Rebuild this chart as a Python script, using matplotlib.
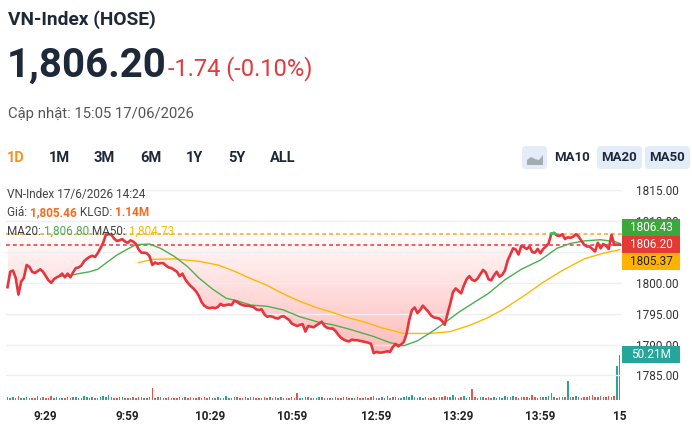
import numpy as np
import matplotlib
matplotlib.use("Agg")
import matplotlib.pyplot as plt
from matplotlib.patches import FancyBboxPatch, Rectangle, Polygon
from matplotlib.path import Path

plt.rcParams['font.family'] = ['Roboto', 'DejaVu Sans']

# ---- data (minute index, lunch break removed) ----
ref_price = 1807.94
last_price = 1806.20
price = [
    1799.3, 1801.8, 1802.0, 1800.8, 1798.1, 1800.2, 1800.8, 1802.9, 1802.6, 1801.8,
    1801.6, 1801.9, 1802.2, 1801.8, 1801.1, 1800.4, 1800.0, 1800.6, 1800.9, 1801.1,
    1801.5, 1800.9, 1801.5, 1800.9, 1801.7, 1802.4, 1802.5, 1802.8, 1803.5, 1803.9,
    1804.2, 1804.4, 1804.2, 1804.8, 1805.6, 1806.5, 1807.8, 1807.9, 1807.8, 1807.2,
    1806.8, 1806.9, 1807.1, 1806.7, 1806.5, 1806.9, 1806.7, 1806.3, 1805.4, 1804.9,
    1804.9, 1804.8, 1804.3, 1802.9, 1803.3, 1803.1, 1803.2, 1803.2, 1802.8, 1802.5,
    1802.4, 1802.1, 1801.8, 1801.1, 1801.5, 1800.6, 1800.0, 1799.5, 1799.1, 1798.6,
    1797.9, 1796.9, 1796.3, 1796.0, 1795.9, 1796.0, 1795.9, 1796.1, 1796.6, 1796.3,
    1796.4, 1796.5, 1796.4, 1797.1, 1796.9, 1796.6, 1796.4, 1796.3, 1796.3, 1796.2,
    1796.1, 1795.7, 1795.6, 1795.7, 1794.9, 1794.5, 1794.6, 1794.5, 1794.3, 1794.2,
    1794.5, 1794.6, 1794.3, 1794.0, 1793.4, 1793.2, 1793.0, 1793.2, 1793.3, 1792.1,
    1793.0, 1792.9, 1792.8, 1793.1, 1793.4, 1793.7, 1793.0, 1792.7, 1792.6, 1792.6,
    1792.2, 1791.6, 1791.1, 1790.8, 1790.6, 1790.5, 1790.8, 1790.7, 1790.7, 1790.6,
    1790.5, 1790.4, 1790.3, 1790.1, 1788.6, 1788.8, 1788.7, 1788.7, 1788.8, 1788.9,
    1788.8, 1789.6, 1790.1, 1789.7, 1790.0, 1790.4, 1791.7, 1794.0, 1795.6, 1796.0,
    1795.1, 1795.6, 1796.3, 1795.8, 1795.3, 1794.7, 1794.4, 1794.3, 1794.2, 1793.8,
    1793.2, 1795.0, 1796.6, 1798.5, 1799.1, 1798.7, 1798.3, 1799.6, 1800.6, 1801.1,
    1800.5, 1800.3, 1800.7, 1801.4, 1802.1, 1801.7, 1800.6, 1800.4, 1801.2, 1801.8,
    1801.0, 1801.3, 1802.0, 1803.6, 1804.6, 1805.6, 1805.4, 1804.6, 1806.0, 1805.8,
    1805.5, 1805.9, 1805.0, 1804.9, 1805.5, 1804.8, 1805.5, 1805.9, 1806.4, 1808.0,
    1808.1, 1807.7, 1807.6, 1807.9, 1807.1, 1807.4, 1807.3, 1807.5, 1807.9, 1807.5,
    1806.8, 1806.2, 1805.9, 1805.9, 1805.5, 1805.1, 1806.5, 1805.6, 1806.3, 1806.0,
    1805.5, 1807.8, 1806.2, 1806.2, 1806.2,
]
volume = [  # million shares
    3.5, 2.2, 2.8, 1.9, 4.6, 2.5, 2.0, 3.1, 2.4, 1.8, 2.6, 3.9, 2.3, 2.9, 2.1,
    2.6, 4.8, 2.2, 3.0, 1.9, 2.7, 2.4, 3.3, 2.0, 2.8, 3.6, 2.2, 2.5, 4.1, 2.9,
    2.3, 3.0, 2.6, 2.1, 3.7, 4.4, 2.8, 5.0, 3.2, 2.5, 2.2, 2.9, 3.3, 2.4, 2.7,
    2.0, 3.1, 2.5, 2.8, 3.6, 2.2, 2.6, 3.0, 13.7, 2.4, 2.9, 3.4, 2.1, 2.6, 3.8,
    2.3, 2.0, 2.7, 3.2, 2.4, 2.9, 2.2, 3.5, 2.6, 2.1, 3.0, 2.4, 2.8, 2.2, 3.1,
    2.5, 2.0, 3.3, 2.7, 2.3, 3.9, 2.4, 2.0, 2.8, 3.2, 2.2, 2.6, 3.0, 2.1, 2.9,
    3.4, 2.3, 2.0, 2.6, 2.9, 2.2, 3.1, 2.5, 2.8, 2.0, 3.6, 2.4, 2.2, 2.7, 3.0,
    2.4, 7.9, 2.6, 2.1, 2.8, 3.3, 2.2, 2.5, 2.0, 2.9, 3.2, 2.3, 2.7, 2.1, 2.6,
    3.0, 2.4, 2.2, 2.8, 3.5, 2.5, 2.1, 2.7, 3.2, 2.3, 2.0, 2.9, 2.6, 3.8, 4.4,
    2.5, 2.2, 3.0, 2.7, 4.1, 2.4, 2.9, 3.3, 2.6, 2.2, 3.1, 4.6, 3.5, 5.2, 2.8,
    2.6, 3.0, 2.4, 3.4, 2.7, 2.2, 3.1, 2.5, 2.9, 3.6, 4.3, 2.8, 3.2, 5.1, 3.0,
    2.6, 3.3, 4.0, 2.7, 3.5, 12.5, 3.0, 2.5, 2.9, 3.4, 2.6, 3.1, 2.4, 3.8, 2.7,
    3.2, 2.5, 3.9, 2.8, 3.4, 4.5, 3.0, 2.6, 3.6, 2.9, 3.3, 2.7, 5.3, 3.1, 2.6,
    3.5, 2.8, 3.2, 4.0, 8.0, 3.3, 2.7, 3.6, 2.9, 3.1, 20.5, 3.4, 2.8, 3.9, 3.0,
    2.7, 3.5, 3.1, 4.2, 5.1, 3.3, 2.9, 4.0, 3.6, 3.2, 4.5, 3.8, 4.1, 37.7, 50.21,
]
ma20_t = [19, 22, 26, 30, 33, 36, 40, 44, 47, 52, 56, 61, 66, 70, 75, 80, 84, 89,
          95, 101, 107, 114, 119, 125, 134, 140, 145, 150, 155, 159, 165, 171, 176,
          182, 188, 195, 201, 206, 211, 217, 222, 224]
ma20_v = [1801.1, 1801.1, 1801.5, 1801.8, 1802.2, 1803.2, 1804.5, 1805.5, 1806.2,
          1806.3, 1805.6, 1804.3, 1802.6, 1800.8, 1799.0, 1797.5, 1797.1, 1796.4,
          1796.2, 1795.6, 1794.5, 1793.6, 1793.2, 1792.5, 1791.3, 1790.3, 1789.8,
          1790.6, 1792.0, 1793.2, 1795.2, 1796.9, 1798.3, 1800.5, 1802.2, 1803.7,
          1805.6, 1806.4, 1806.8, 1807.0, 1806.7, 1806.43]
ma50_t = [48, 53, 61, 70, 77, 83, 89, 95, 101, 107, 113, 119, 125, 131, 137, 145,
          155, 162, 169, 175, 181, 189, 196, 203, 211, 218, 221, 224]
ma50_v = [1803.3, 1803.8, 1803.9, 1803.5, 1802.9, 1801.9, 1800.7, 1799.6, 1798.2,
          1797.0, 1796.0, 1795.2, 1794.3, 1793.6, 1792.7, 1791.8, 1791.8, 1792.1,
          1793.1, 1794.2, 1795.6, 1797.9, 1800.1, 1802.0, 1803.9, 1804.8, 1805.1,
          1805.37]
tick_idx = [14, 44, 74, 104, 135, 165, 195, 224]
tick_lbl = ['9:29', '9:59', '10:29', '10:59', '12:59', '13:29', '13:59', '15']

RED = '#e8343c'
GREEN_UP = '#2ecc55'
MA20_C = '#4caf50'
MA50_C = '#ffb800'
DARK = '#1d2939'

price = np.array(price)
minutes = np.arange(len(price))
W, H = 692, 436

fig = plt.figure(figsize=(W / 100, H / 100), dpi=100)
fig.patch.set_facecolor('white')


def fx(px):
    return px / W


def fy(py):
    return 1 - py / H


def rich(x_px, y_px, parts, size):
    r = fig.canvas.get_renderer()
    x = x_px
    for s, c, wt in parts:
        t = fig.text(fx(x), fy(y_px), s, color=c, fontsize=size, fontweight=wt, va='baseline')
        x += t.get_window_extent(r).width


# header
fig.text(fx(8), fy(24.5), 'VN-Index (HOSE)', fontsize=13.8, fontweight='bold', color=DARK)
fig.text(fx(7), fy(77), '1,806.20', fontsize=29, fontweight='bold', color=DARK)
fig.text(fx(168), fy(75), '-1.74 (-0.10%)', fontsize=17, color='#e03a3e')
fig.text(fx(8), fy(118), 'Cập nhật: 15:05 17/06/2026', fontsize=10.7, color='#555555')

periods = ['1D', '1M', '3M', '6M', '1Y', '5Y', 'ALL']
period_x = [7, 49, 94, 140, 186, 228, 270]
for lbl, px in zip(periods, period_x):
    fig.text(fx(px), fy(162), lbl, fontsize=10.5, fontweight='bold',
             color='#f7931e' if lbl == '1D' else DARK)

for x0, x1 in [(522, 547), (597, 642), (645, 690)]:
    fig.add_artist(FancyBboxPatch((x0 / 100, (H - 169) / 100), (x1 - x0) / 100, 23 / 100,
                                  boxstyle='round,pad=0,rounding_size=0.04',
                                  transform=fig.dpi_scale_trans, fc='#e4edf7', ec='none'))
icon = [(527, 165), (527, 160), (531, 157), (535, 159), (539, 160), (543, 155),
        (543, 165)]
fig.add_artist(Polygon([(a / 100, (H - b) / 100) for a, b in icon], closed=True,
                       transform=fig.dpi_scale_trans, fc='#a3abb5', ec='none'))
for lbl, cx in [('MA10', 572), ('MA20', 619.5), ('MA50', 667.5)]:
    fig.text(fx(cx), fy(157.5), lbl, fontsize=9.5, fontweight='bold', color=DARK,
             ha='center', va='center')

# chart axes
ax = fig.add_axes([fx(6), 36 / H, 616 / W, 217 / H])
ax2 = ax.twinx()
ax.set_zorder(2)
ax2.set_zorder(1)
ax.patch.set_visible(False)

# volume
vcol = ['#26a69a' if i == 0 or price[i] >= price[i - 1] else '#ef5350'
        for i in range(len(price))]
ax2.bar(minutes, volume, width=0.55, color=vcol, linewidth=0)
ax2.set_ylim(0, 240)
ax2.set_yticks([])

# gradient fill between price and reference
fb = ax.fill_between(minutes, price, ref_price, where=price <= ref_price, interpolate=True,
                     facecolor='none', edgecolor='none')
clip = Path.make_compound_path(*fb.get_paths())
n = 256
grad = np.zeros((n, 1, 4))
grad[:, 0, 0] = 1.0
grad[:, 0, 1] = 0.32
grad[:, 0, 2] = 0.32
grad[:, 0, 3] = np.linspace(0.4, 0.02, n)
img = ax.imshow(grad, extent=[0, minutes[-1], price.min(), ref_price], origin='lower',
                aspect='auto', interpolation='bilinear', zorder=1)
img.set_clip_path(clip, transform=ax.transData)

ax.axhline(ref_price, color='#f5a623', lw=1.1, ls=(0, (2.5, 2)), zorder=3)
ax.axhline(last_price, color=RED, lw=1.1, ls=(0, (2.5, 2)), zorder=3)

ax.plot(ma50_t, ma50_v, color=MA50_C, lw=1.0, zorder=4)
ax.plot(ma20_t, ma20_v, color=MA20_C, lw=1.0, zorder=4)
ax.plot(minutes, price, color=RED, lw=1.9, solid_joinstyle='round', zorder=5)
xx = np.linspace(0, minutes[-1], 5000)
yy = np.interp(xx, minutes, price)
ax.plot(xx, np.where(yy >= ref_price, yy, np.nan), color=GREEN_UP, lw=1.9, zorder=6)

ax.set_xlim(-0.55, 224.85)
ax.set_ylim(1781.0, 1816.2)
ax.yaxis.tick_right()
yt = np.arange(1785, 1816, 5)
ax.set_yticks(yt)
# the 1805 label sits completely behind the price tags, as in the reference
ax.set_yticklabels(['' if v == 1805 else f'{v:.2f}' for v in yt])
ax.set_xticks(tick_idx)
ax.set_xticklabels(tick_lbl, fontweight='bold')
ax.tick_params(axis='y', length=0, pad=10, labelsize=8.5, labelcolor='#333333')
ax.tick_params(axis='x', length=0, pad=7, labelsize=8.5, labelcolor='#222222')
ax.grid(axis='y', color='#efefef', lw=1)
for a in (ax, ax2):
    for s in a.spines.values():
        s.set_visible(False)


def tag(yc, text, fc, tc):
    fig.add_artist(Rectangle((622 / 100, (yc - 8.5) / 100), 58 / 100, 17 / 100,
                             transform=fig.dpi_scale_trans, fc=fc, ec='none', zorder=10))
    fig.text(651 / W, yc / H, text, ha='center', va='center', fontsize=8.5,
             color=tc, zorder=11)


y_red = ax.transData.transform((0, last_price))[1]
tag(y_red + 17, f'{ma20_v[-1]:.2f}', '#3ca83c', 'white')
tag(y_red, f'{last_price:.2f}', '#e53935', 'white')
tag(y_red - 17, f'{ma50_v[-1]:.2f}', '#ffb300', '#222222')
y_vol = ax2.transData.transform((0, volume[-1]))[1]
tag(y_vol, f'{volume[-1]:.2f}M', '#26a69a', 'white')

# info text above the chart
rich(7, 197.5, [('VN-Index 17/6/2026 14:24', '#444444', 'normal')], 8.5)
rich(7, 216, [('Giá: ', '#444444', 'normal'), ('1,805.46', '#f26b1d', 'bold'),
              (' KLGD: ', '#444444', 'normal'), ('1.14M', '#f26b1d', 'bold')], 8.5)
rich(7, 234.5, [('MA20: ', '#444444', 'normal'), ('1,806.80', MA20_C, 'normal'),
                (' MA50: ', '#444444', 'normal'), ('1,804.73', '#fbbc05', 'normal')], 8.5)

fig.savefig('out.png', dpi=100)
